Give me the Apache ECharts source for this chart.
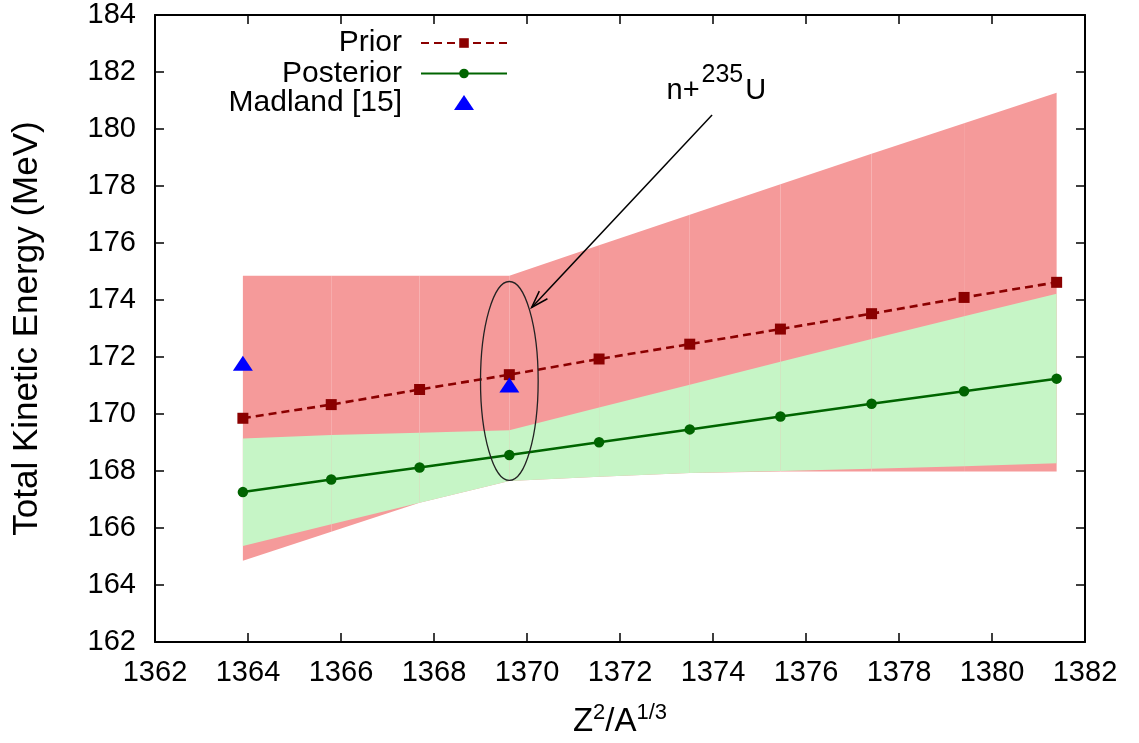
<!DOCTYPE html>
<html><head><meta charset="utf-8">
<script src="https://cdn.jsdelivr.net/npm/echarts@6/dist/echarts.min.js"></script>
<style>html,body{margin:0;padding:0;background:#fff}#c{width:1139px;height:743px}</style>
</head><body><div id="c"></div>
<script>
// ---- data ----
const xValues = [1363.89, 1365.79, 1367.69, 1369.62, 1371.55, 1373.50, 1375.45, 1377.41, 1379.40, 1381.39];
const priorValues = [169.85, 170.33, 170.86, 171.38, 171.93, 172.45, 172.98, 173.52, 174.09, 174.62];
const posteriorValues = [167.26, 167.70, 168.12, 168.56, 169.01, 169.46, 169.91, 170.36, 170.80, 171.24];
const priorLow = [164.85, 165.87, 166.89, 167.65, 167.80, 167.93, 167.98, 167.98, 167.98, 167.98];
const priorHigh = [174.85, 174.85, 174.85, 174.85, 175.92, 176.99, 178.06, 179.13, 180.20, 181.27];
const postLow = [165.37, 166.13, 166.89, 167.65, 167.80, 167.93, 168.00, 168.08, 168.17, 168.27];
const postHigh = [169.14, 169.26, 169.34, 169.43, 170.23, 171.03, 171.83, 172.63, 173.43, 174.22];
const madlandX = [1363.89, 1369.62];
const madlandY = [171.78, 171.02];
const seriesNames = ['Prior', 'Posterior', 'Madland [15]'];
const xAxisRange = {min: 1362, max: 1382, interval: 2};
const yAxisRange = {min: 162, max: 184, interval: 2};
const annotationText = ['n+', '235', 'U'];

const FONT = '"Liberation Sans", Arial, Helvetica, sans-serif';

function bandSeries(name, lo, hi, color, z) {
  return {
    type: 'custom', name: name, z: z, silent: true, animation: false,
    data: xValues.slice(0, -1).map((x, i) => [x, lo[i], hi[i]]),
    encode: {x: 0, y: [1, 2]},
    renderItem: function (params, api) {
      const i = params.dataIndex;
      const pts = [
        api.coord([xValues[i], lo[i]]),
        api.coord([xValues[i + 1], lo[i + 1]]),
        api.coord([xValues[i + 1], hi[i + 1]]),
        api.coord([xValues[i], hi[i]])
      ];
      return {type: 'polygon', shape: {points: pts}, style: {fill: color}};
    }
  };
}

const axisLineStyle = {color: '#000', width: 2};
const tickStyle = {inside: true, length: 9, lineStyle: {color: '#000', width: 1.5}};
const labelStyle = {fontSize: 29, color: '#000', fontFamily: FONT, formatter: function (v) { return String(v); }};

const LEG_FS = 30;
const legendBase = {
  orient: 'horizontal', align: 'right', right: 631, padding: 0,
  itemWidth: 86, itemHeight: 12, selectedMode: false,
  textStyle: {fontSize: LEG_FS, color: '#000', fontFamily: FONT, padding: [0, 14, 0, 0]}
};

const option = {
  animation: false,
  backgroundColor: '#fff',
  grid: {left: 155, right: 54, top: 15, bottom: 100, containLabel: false},
  legend: [
    Object.assign({}, legendBase, {data: [seriesNames[0]], top: 28}),
    Object.assign({}, legendBase, {data: [seriesNames[1]], top: 58.5}),
    Object.assign({}, legendBase, {data: [{name: seriesNames[2], icon: 'triangle'}], top: 87.5,
      right: 665, itemWidth: 20, itemHeight: 15,
      textStyle: {fontSize: LEG_FS, color: '#000', fontFamily: FONT, padding: [0, 47, 0, 0]}})
  ],
  xAxis: [
    Object.assign({type: 'value', position: 'bottom',
      axisLine: {show: true, lineStyle: axisLineStyle}, axisTick: tickStyle,
      axisLabel: Object.assign({margin: 16}, labelStyle), splitLine: {show: false},
      name: '{m|Z}{s|2}{m|/A}{s|1/3}', nameLocation: 'middle', nameGap: 60,
      nameTextStyle: {rich: {
        m: {fontSize: 33, fontFamily: FONT, color: '#000', lineHeight: 36, verticalAlign: 'bottom'},
        s: {fontSize: 22, fontFamily: FONT, color: '#000', lineHeight: 22, verticalAlign: 'top', padding: [0, 0, 0, 0]}
      }}
    }, xAxisRange),
    Object.assign({type: 'value', position: 'top',
      axisLine: {show: true, lineStyle: axisLineStyle}, axisTick: tickStyle,
      axisLabel: {show: false}, splitLine: {show: false}}, xAxisRange)
  ],
  yAxis: [
    Object.assign({type: 'value', position: 'left',
      axisLine: {show: true, lineStyle: axisLineStyle}, axisTick: tickStyle,
      axisLabel: Object.assign({margin: 19}, labelStyle), splitLine: {show: false},
      name: 'Total Kinetic Energy (MeV)', nameLocation: 'middle', nameGap: 110, nameRotate: 90,
      nameTextStyle: {fontSize: 35, fontFamily: FONT, color: '#000'}
    }, yAxisRange),
    Object.assign({type: 'value', position: 'right',
      axisLine: {show: true, lineStyle: axisLineStyle}, axisTick: tickStyle,
      axisLabel: {show: false}, splitLine: {show: false}}, yAxisRange)
  ],
  series: [
    bandSeries('priorBand', priorLow, priorHigh, '#f59a9a', 1),
    bandSeries('postBand', postLow, postHigh, '#c6f5c6', 2),
    {
      name: seriesNames[0], type: 'line', z: 5,
      data: xValues.map((x, i) => [x, priorValues[i]]),
      symbol: 'rect', symbolSize: 11, showAllSymbol: true,
      lineStyle: {color: '#8b0000', width: 2.6, type: [8, 5]},
      itemStyle: {color: '#8b0000'}
    },
    {
      name: seriesNames[1], type: 'line', z: 5,
      data: xValues.map((x, i) => [x, posteriorValues[i]]),
      symbol: 'circle', symbolSize: 10.5, showAllSymbol: true,
      lineStyle: {color: '#006400', width: 2.5},
      itemStyle: {color: '#006400'}
    },
    {
      name: seriesNames[2], type: 'scatter', z: 6,
      data: madlandX.map((x, i) => [x, madlandY[i]]),
      symbol: 'triangle', symbolSize: [20, 15],
      itemStyle: {color: '#0000ff', opacity: 1}
    }
  ]
};

const chart = echarts.init(document.getElementById('c'), null, {renderer: 'canvas'});
chart.setOption(option);

// ---- annotation (ellipse, arrow, label) anchored in data coordinates ----
function px(x, y) { return chart.convertToPixel({xAxisIndex: 0, yAxisIndex: 0}, [x, y]); }
const ellC = px(1369.62, 171.16);
const ellR = px(1369.62 + 0.62, 171.16 + 3.49);
const rx = ellR[0] - ellC[0], ry = ellC[1] - ellR[1];

const tail = px(1373.98, 180.49);
const tip = px(1370.10, 173.74);
const ang = Math.atan2(tail[1] - tip[1], tail[0] - tip[0]);
const hl = 18, ha = 18 * Math.PI / 180;
const h1 = [tip[0] + hl * Math.cos(ang + ha), tip[1] + hl * Math.sin(ang + ha)];
const h2 = [tip[0] + hl * Math.cos(ang - ha), tip[1] + hl * Math.sin(ang - ha)];

const MAIN_FS = 29, SUP_FS = 25;
const lab = px(1373.0, 181.35);
const meas = document.createElement('canvas').getContext('2d');
meas.font = MAIN_FS + 'px ' + FONT;
const w1 = meas.measureText(annotationText[0]).width;
meas.font = SUP_FS + 'px ' + FONT;
const w2 = meas.measureText(annotationText[1]).width;

chart.setOption({
  graphic: [
    {type: 'ellipse', shape: {cx: ellC[0], cy: ellC[1], rx: rx, ry: ry}, style: {fill: 'none', stroke: '#222', lineWidth: 1.3}, z: 100, silent: true},
    {type: 'line', shape: {x1: tail[0], y1: tail[1], x2: tip[0], y2: tip[1]}, style: {stroke: '#000', lineWidth: 1.5}, z: 100, silent: true},
    {type: 'polyline', shape: {points: [h1, tip, h2]}, style: {stroke: '#000', fill: 'none', lineWidth: 1.5}, z: 100, silent: true},
    {type: 'text', x: lab[0], y: lab[1], style: {text: annotationText[0], font: MAIN_FS + 'px ' + FONT, fill: '#000', align: 'left', verticalAlign: 'middle'}, z: 100, silent: true},
    {type: 'text', x: lab[0] + w1 + 2, y: lab[1] - 15, style: {text: annotationText[1], font: SUP_FS + 'px ' + FONT, fill: '#000', align: 'left', verticalAlign: 'middle'}, z: 100, silent: true},
    {type: 'text', x: lab[0] + w1 + w2 + 4, y: lab[1], style: {text: annotationText[2], font: MAIN_FS + 'px ' + FONT, fill: '#000', align: 'left', verticalAlign: 'middle'}, z: 100, silent: true}
  ]
});
</script>
</body></html>
